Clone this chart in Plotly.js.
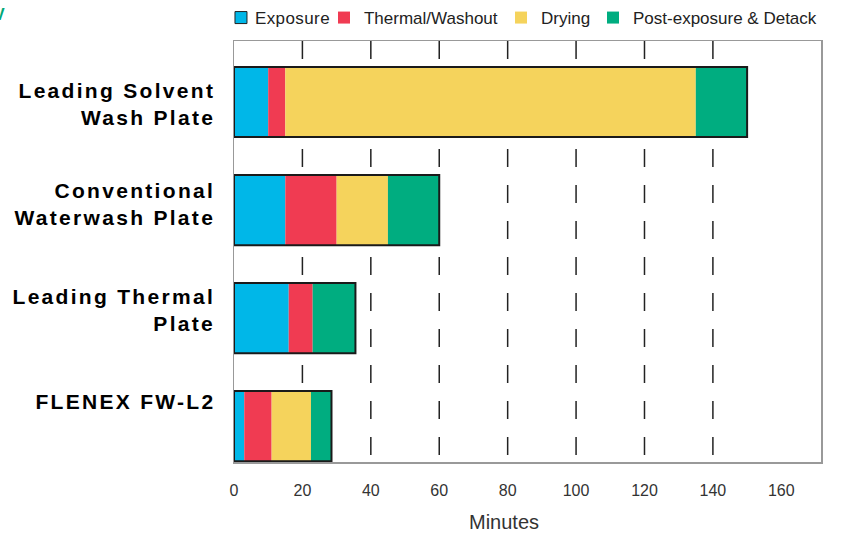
<!DOCTYPE html>
<html><head><meta charset="utf-8">
<script src="https://cdn.plot.ly/plotly-3.0.1.min.js"></script>
<style>
html,body{margin:0;padding:0;background:#fff;}
#chart{width:841px;height:533px;}
.legend .legendpoints path{stroke:#222 !important;stroke-width:1px !important;}
.legend .legendpoints{transform:translate(6px,0px);}
.legend text{letter-spacing:0.4px;}
.annotation[data-index="0"] text,.annotation[data-index="1"] text,.annotation[data-index="2"] text,.annotation[data-index="3"] text{letter-spacing:2.3px;}
</style></head><body><div id="chart"></div>
<script>
// ---- data ----
const categories = ['FLENEX FW-L2', 'Leading Thermal<br>Plate', 'Conventional<br>Waterwash Plate', 'Leading Solvent<br>Wash Plate'];
const seriesNames = ['Exposure', 'Thermal/Washout', 'Drying', 'Post-exposure & Detack'];
const exposure = [3, 16, 15, 10];
const thermal  = [8, 7, 15, 5];
const drying   = [11.5, 0, 15, 120];
const post     = [6, 12.5, 15, 15];
const xTickVals = [0, 20, 40, 60, 80, 100, 120, 140, 160];
const gridVals  = [20, 40, 60, 80, 100, 120, 140];
const axisTitle = 'Minutes';

// ---- styles ----
const colors = ['#00B7E8', '#F03B52', '#F5D35C', '#00AD80'];
const labelShift = [25, 8.5, 6, -2];
const legendX = [-0.0324, 0.1533, 0.4549, 0.6116];
const legendIds = ['legend', 'legend2', 'legend3', 'legend4'];
const FONT = 'Liberation Sans, Arial, Helvetica, sans-serif';

const series = [exposure, thermal, drying, post];
const traces = [];
let cum = categories.map(() => 0);
series.forEach((vals, i) => {
  const base = cum.slice();
  traces.push({
    type: 'bar', orientation: 'h', name: seriesNames[i], legend: legendIds[i],
    y: categories, x: vals, base: base, width: 0.65,
    marker: {color: colors[i], line: {width: 0}},
    hoverinfo: 'skip'
  });
  cum = cum.map((c, j) => c + vals[j]);
});
// outline around each whole stacked bar
traces.push({
  type: 'bar', orientation: 'h', y: categories, x: cum, base: categories.map(() => 0),
  width: 0.65, showlegend: false, hoverinfo: 'skip',
  marker: {color: 'rgba(0,0,0,0)', line: {color: '#1a1a1a', width: 2}}
});

const shapes = gridVals.map(v => ({
  type: 'line', xref: 'x', yref: 'paper', x0: v, x1: v, y0: 1, y1: 0, layer: 'below',
  line: {color: '#222', width: 1.5, dash: '18px,18px'}
}));

const annotations = categories.map((c, i) => ({
  xref: 'paper', yref: 'y', x: -0.029, y: c, xanchor: 'right', yanchor: 'middle',
  yshift: labelShift[i], align: 'right', showarrow: false, text: c,
  font: {family: FONT, size: 21, color: '#000', weight: 700}
}));
annotations.push({
  xref: 'x', yref: 'paper', x: 79, y: -0.1425, xanchor: 'center', yanchor: 'middle',
  showarrow: false, text: axisTitle, font: {family: FONT, size: 20, color: '#333'}
});
annotations.push({
  xref: 'paper', yref: 'paper', x: -0.4003, y: 1.0618, xanchor: 'center', yanchor: 'middle',
  showarrow: false, text: 'V', font: {family: FONT, size: 16, color: '#00A878', weight: 700}
});

const layout = {
  width: 841, height: 533,
  margin: {l: 234, r: 20, t: 41, b: 71, autoexpand: false},
  paper_bgcolor: '#fff', plot_bgcolor: '#fff',
  barmode: 'overlay',
  showlegend: true,
  xaxis: {range: [0, 171.6], tickvals: xTickVals, ticktext: xTickVals.map(String),
          showgrid: false, zeroline: false, ticks: '', ticklabelstandoff: 13,
          showline: true, mirror: true, linecolor: '#999', linewidth: 1.5,
          tickfont: {family: FONT, size: 16, color: '#333'}, fixedrange: true},
  yaxis: {type: 'category', categoryorder: 'array', categoryarray: categories,
          range: [-0.333, 3.565], showticklabels: false, showgrid: false, zeroline: false,
          ticks: '', showline: true, mirror: true, linecolor: '#999', linewidth: 1.5, fixedrange: true},
  shapes: shapes,
  annotations: annotations
};
legendIds.forEach((id, i) => {
  layout[id] = {orientation: 'h', x: legendX[i], xanchor: 'left', y: 1.0546, yanchor: 'middle',
                font: {family: FONT, size: 17, color: '#222'}, bgcolor: 'rgba(0,0,0,0)', borderwidth: 0};
});

Plotly.newPlot('chart', traces, layout, {displayModeBar: false, staticPlot: true});
</script></body></html>
